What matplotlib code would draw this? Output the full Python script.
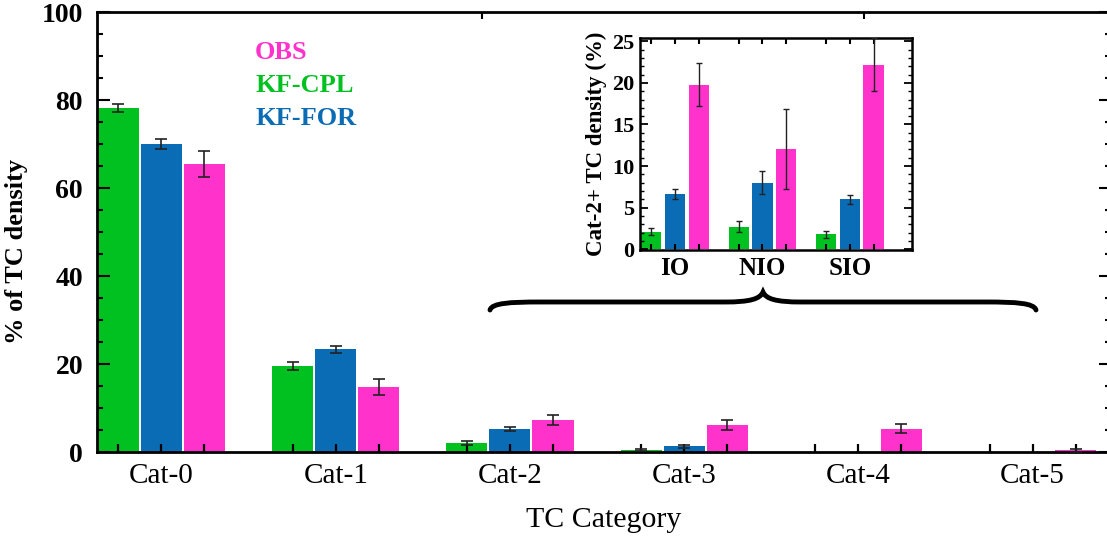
import numpy as np
import matplotlib
matplotlib.use('Agg')
import matplotlib.pyplot as plt
from matplotlib.path import Path
from matplotlib.patches import PathPatch

plt.rcParams['font.family'] = ['Liberation Serif', 'DejaVu Serif']

# main chart data
categories = ['Cat-0', 'Cat-1', 'Cat-2', 'Cat-3', 'Cat-4', 'Cat-5']
kf_cpl = [78.2, 19.5, 2.0, 0.4, 0.0, 0.0]
kf_cpl_err = [1.0, 0.9, 0.5, 0.2, 0.0, 0.0]
kf_for = [70.0, 23.4, 5.2, 1.3, 0.0, 0.0]
kf_for_err = [1.2, 0.8, 0.5, 0.3, 0.0, 0.0]
obs = [65.5, 14.8, 7.3, 6.2, 5.3, 0.4]
obs_err = [3.0, 1.8, 1.2, 1.1, 1.0, 0.3]

# inset data
regions = ['IO', 'NIO', 'SIO']
in_cpl = [2.1, 2.7, 1.8]
in_cpl_err = [0.4, 0.65, 0.4]
in_for = [6.6, 8.0, 6.0]
in_for_err = [0.6, 1.4, 0.55]
in_obs = [19.8, 12.0, 22.2]
in_obs_err = [2.6, 4.8, 3.2]

C_CPL = '#00c11f'
C_FOR = '#0a6cb5'
C_OBS = '#ff33cc'

W, H = 1107, 536
fig = plt.figure(figsize=(W / 100, H / 100), dpi=100)


def fx(px):
    return px / W


def fy(py):
    return 1 - py / H


ax = fig.add_axes([fx(97), fy(452), fx(1111) - fx(97), fy(12) - fy(452)])
ax.set_axisbelow(False)

x = np.arange(len(categories))
off = 0.247
bw = 0.236
series = [(kf_cpl, kf_cpl_err, C_CPL), (kf_for, kf_for_err, C_FOR), (obs, obs_err, C_OBS)]
pos_all = []
for i, (vals, errs, col) in enumerate(series):
    p = x + (i - 1) * off
    pos_all.extend(p)
    ax.bar(p, vals, bw, color=col, edgecolor='none', zorder=2)
    show = np.array(errs) > 0
    ax.errorbar(p[show], np.array(vals)[show], yerr=np.array(errs)[show], fmt='none',
                ecolor='#222222', elinewidth=1.2, capsize=4, capthick=1.2, zorder=3)

ax.set_xlim(-0.37, 5.45)
ax.set_ylim(0, 100)
# bar-centre ticks on the bottom, category names as labels under the middle bar
ax.set_xticks(sorted(pos_all))
ax.set_xticklabels([c if j % 3 == 1 else '' for j in range(len(pos_all))
                    for c in [categories[j // 3]]], fontsize=21)
ax.tick_params(axis='x', which='major', direction='in', length=6, width=1.6,
               bottom=True, top=False, colors='black', pad=8)
ax.set_yticks(np.arange(0, 101, 20))
ax.set_yticks(np.arange(0, 101, 5), minor=True)
ax.tick_params(axis='y', which='major', direction='in', length=9, width=1.5,
               right=True, labelsize=20, pad=10)
ax.tick_params(axis='y', which='minor', direction='in', length=4, width=1.5, right=True)
for lab in ax.get_yticklabels():
    lab.set_fontweight('bold')
for s in ax.spines.values():
    s.set_linewidth(2)

top = ax.secondary_xaxis('top')
top.set_xticks([1.84, 4.03])
top.set_xticklabels([])
top.tick_params(direction='in', length=5, width=1.5)
top.spines['top'].set_visible(False)

ax.set_ylabel('% of TC density', fontsize=19, fontweight='bold')
ax.yaxis.set_label_coords(-0.068, 0.455)
ax.set_xlabel('TC Category', fontsize=21.5, labelpad=13)

leg = [('OBS', C_OBS), ('KF-CPL', C_CPL), ('KF-FOR', C_FOR)]
for k, (t, c) in enumerate(leg):
    ax.text(0.156, 0.909 - k * 0.075, t, color=c, fontsize=19, fontweight='bold',
            transform=ax.transAxes, va='center', ha='left')

# brace
verts = [(490, 310), (492, 303), (510, 302), (540, 302),
         (725, 302),
         (750, 302), (760, 299), (763, 292),
         (766, 299), (776, 302), (801, 302),
         (986, 302),
         (1016, 302), (1034, 303), (1036, 310)]
codes = [Path.MOVETO, Path.CURVE4, Path.CURVE4, Path.CURVE4,
         Path.LINETO,
         Path.CURVE4, Path.CURVE4, Path.CURVE4,
         Path.CURVE4, Path.CURVE4, Path.CURVE4,
         Path.LINETO,
         Path.CURVE4, Path.CURVE4, Path.CURVE4]
verts = [(fx(a), fy(b)) for a, b in verts]
fig.patches.append(PathPatch(Path(verts, codes), transform=fig.transFigure,
                             fill=False, lw=3.5, capstyle='round', color='black'))

# inset
ins = fig.add_axes([fx(640), fy(250), fx(912) - fx(640), fy(38) - fy(250)])
ins.set_axisbelow(False)
xi = np.arange(len(regions))
ioff = 0.27
ibw = 0.23
iseries = [(in_cpl, in_cpl_err, C_CPL), (in_for, in_for_err, C_FOR), (in_obs, in_obs_err, C_OBS)]
ipos = []
for i, (vals, errs, col) in enumerate(iseries):
    p = xi + (i - 1) * ioff
    ipos.extend(p)
    ins.bar(p, vals, ibw, color=col, edgecolor='none', zorder=2)
    ins.errorbar(p, vals, yerr=errs, fmt='none', ecolor='#222222', elinewidth=1.0,
                 capsize=2, capthick=1.0, zorder=3)
ins.set_xlim(-0.40, 2.71)
ins.set_ylim(-0.1, 25.4)
ins.set_xticks(sorted(ipos))
ins.set_xticklabels([r if j % 3 == 1 else '' for j in range(len(ipos))
                     for r in [regions[j // 3]]], fontsize=18, fontweight='bold')
ins.tick_params(axis='x', which='major', direction='in', length=4, width=1.5,
                bottom=True, top=True, pad=5)
ins.set_yticks(np.arange(0, 26, 5))
ins.set_yticks(np.arange(0, 26, 1), minor=True)
ins.tick_params(axis='y', which='major', direction='in', length=6, width=1.3,
                right=True, labelsize=16, pad=4)
ins.tick_params(axis='y', which='minor', direction='in', length=3, width=1.0, right=True)
for lab in ins.get_yticklabels():
    lab.set_fontweight('bold')
for s in ins.spines.values():
    s.set_linewidth(1.8)
ins.set_ylabel('Cat-2+ TC density (%)', fontsize=16.5, fontweight='bold', labelpad=4)

fig.savefig('out.png', dpi=100)
